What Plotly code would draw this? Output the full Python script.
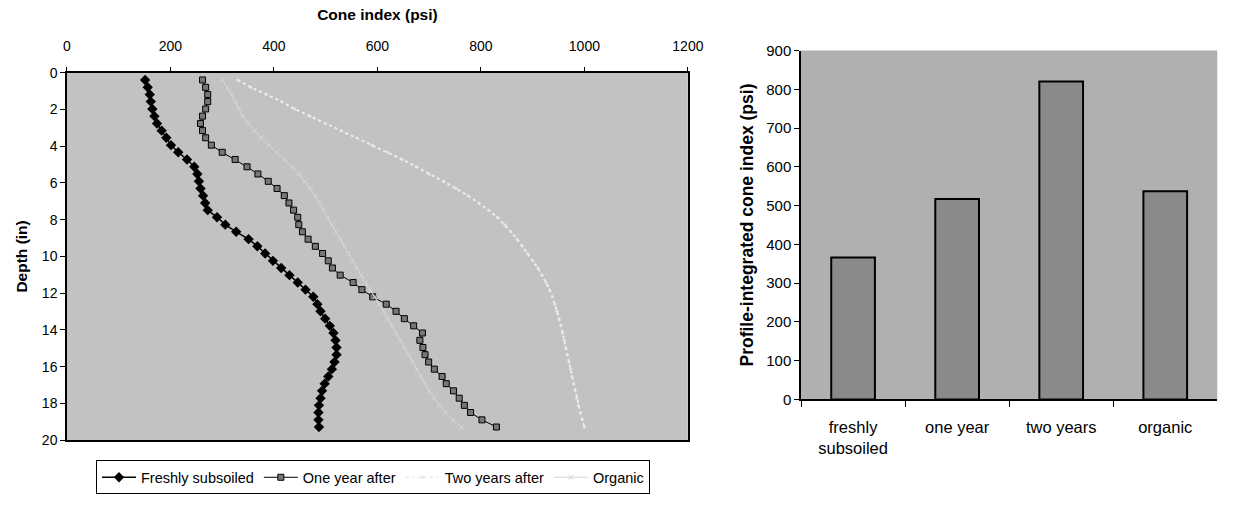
import plotly.graph_objects as go

# ---- Data ----
depth_in = [0.39, 0.79, 1.18, 1.57, 1.97, 2.36, 2.76, 3.15, 3.54, 3.94,
            4.33, 4.72, 5.12, 5.51, 5.91, 6.30, 6.69, 7.09, 7.48, 7.87,
            8.27, 8.66, 9.06, 9.45, 9.84, 10.24, 10.63, 11.02, 11.42, 11.81,
            12.20, 12.60, 12.99, 13.39, 13.78, 14.17, 14.57, 14.96, 15.35, 15.75,
            16.14, 16.54, 16.93, 17.32, 17.72, 18.11, 18.50, 18.90, 19.29]

freshly_subsoiled = [151, 156, 160, 162, 165, 169, 174, 183, 192, 201,
                     215, 232, 246, 252, 255, 258, 263, 267, 272, 290,
                     306, 327, 351, 368, 383, 398, 414, 430, 446, 461,
                     476, 484, 490, 499, 508, 515, 519, 521, 521, 517,
                     512, 505, 498, 493, 490, 487, 486, 486, 487]

one_year_after = [262, 268, 272, 272, 268, 262, 258, 262, 268, 279,
                  300, 325, 348, 369, 389, 406, 420, 429, 438, 446,
                  448, 455, 466, 480, 494, 505, 513, 528, 553, 570,
                  591, 617, 636, 652, 670, 687, 682, 688, 692, 699,
                  710, 725, 733, 747, 758, 768, 780, 802, 830]

two_years_after = [330, 355, 385, 415, 440, 470, 500, 530, 560, 590,
                   620, 648, 675, 700, 728, 752, 775, 796, 815, 832,
                   846, 858, 870, 880, 890, 900, 910, 918, 926, 933,
                   938, 943, 947, 951, 955, 958, 961, 964, 967, 970,
                   973, 976, 979, 982, 985, 988, 992, 996, 1000]

organic = [300, 310, 318, 325, 332, 340, 350, 362, 375, 390,
           405, 420, 435, 448, 460, 470, 480, 488, 496, 504,
           512, 520, 528, 536, 544, 552, 560, 568, 577, 586,
           595, 604, 612, 620, 628, 636, 644, 652, 660, 668,
           676, 684, 692, 700, 710, 720, 732, 746, 762]

bar_categories = ["freshly<br>subsoiled", "one year", "two years", "organic"]
bar_values = [366, 517, 820, 537]

x_ticks_left = [0, 200, 400, 600, 800, 1000, 1200]
y_ticks_left = [0, 2, 4, 6, 8, 10, 12, 14, 16, 18, 20]
y_ticks_right = [0, 100, 200, 300, 400, 500, 600, 700, 800, 900]

FONT = "Liberation Sans, Arial, sans-serif"
W, H = 1251, 507

fig = go.Figure()

fig.add_trace(go.Scatter(
    x=freshly_subsoiled, y=depth_in, name="Freshly subsoiled",
    mode="lines+markers", xaxis="x", yaxis="y",
    line=dict(color="black", width=1.5),
    marker=dict(symbol="diamond", size=8, color="black")))
fig.add_trace(go.Scatter(
    x=one_year_after, y=depth_in, name="One year after",
    mode="lines+markers", xaxis="x", yaxis="y",
    line=dict(color="black", width=1),
    marker=dict(symbol="square", size=6, color="#777777",
                line=dict(color="black", width=1))))
fig.add_trace(go.Scatter(
    x=two_years_after, y=depth_in, name="Two years after",
    mode="lines+markers", xaxis="x", yaxis="y",
    line=dict(color="#eeeeee", width=2, dash="dot"),
    marker=dict(symbol="circle", size=3, color="#e6e6e6")))
fig.add_trace(go.Scatter(
    x=organic, y=depth_in, name="Organic",
    mode="lines+markers", xaxis="x", yaxis="y",
    line=dict(color="#d6d6d6", width=1),
    marker=dict(symbol="x-thin", size=5, color="#d6d6d6",
                line=dict(color="#d6d6d6", width=1))))

fig.add_trace(go.Bar(
    x=bar_categories, y=bar_values, xaxis="x2", yaxis="y2",
    showlegend=False,
    marker=dict(color="#8a8a8a", line=dict(color="black", width=2))))

# plot-area backgrounds (scanned grey)
fig.add_shape(type="rect", xref="x domain", yref="y domain", x0=0, x1=1, y0=0, y1=1,
              fillcolor="#c2c2c2", line=dict(width=0), layer="below")
fig.add_shape(type="rect", xref="x2 domain", yref="y2 domain", x0=0, x1=1, y0=0, y1=1,
              fillcolor="#b0b0b0", line=dict(width=0), layer="below")

fig.update_layout(
    width=W, height=H,
    margin=dict(l=0, r=0, t=0, b=0),
    paper_bgcolor="white",
    plot_bgcolor="rgba(0,0,0,0)",
    font=dict(family=FONT, size=13, color="black"),
    bargap=0.58,
    xaxis=dict(
        domain=[64 / W, 695 / W], anchor="y", side="top",
        range=[0, 1200], tickvals=x_ticks_left,
        tickfont=dict(family=FONT, size=14, color="black"),
        ticks="outside", ticklen=4, tickcolor="black", ticklabelstandoff=10,
        showline=True, linecolor="black", linewidth=1.5, mirror=True,
        showgrid=False, zeroline=False,
        title=dict(text="<b>Cone index (psi)</b>", font=dict(family=FONT, size=15.5),
                   standoff=14)),
    yaxis=dict(
        domain=[1 - 446 / H, 1 - 66 / H], anchor="x",
        range=[20, 0], tickvals=y_ticks_left,
        tickfont=dict(family=FONT, size=14, color="black"),
        ticks="outside", ticklen=5, tickcolor="black",
        showline=True, linecolor="black", linewidth=1.5, mirror=True,
        showgrid=False, zeroline=False,
        title=dict(text="<b>Depth (in)</b>", font=dict(family=FONT, size=15.5),
                   standoff=10)),
    xaxis2=dict(
        domain=[810 / W, 1233 / W], anchor="y2",
        tickfont=dict(family=FONT, size=16.5, color="black"),
        ticks="outside", ticklen=6, tickcolor="black", tickson="boundaries",
        ticklabelstandoff=12,
        showline=True, linecolor="black", linewidth=1.5,
        showgrid=False, zeroline=False),
    yaxis2=dict(
        domain=[1 - 404 / H, 1 - 43 / H], anchor="x2",
        range=[0, 900], tickvals=y_ticks_right,
        tickfont=dict(family=FONT, size=15, color="black"),
        ticks="outside", ticklen=5, tickcolor="black",
        showline=True, linecolor="black", linewidth=1.5,
        showgrid=False, zeroline=False,
        title=dict(text="<b>Profile-integrated cone index (psi)</b>",
                   font=dict(family=FONT, size=17.5), standoff=8)),
    legend=dict(
        orientation="h", x=375 / W, xanchor="center", y=1 - 467 / H, yanchor="top",
        bgcolor="white", bordercolor="black", borderwidth=1,
        font=dict(family=FONT, size=14.5, color="black"),
        itemwidth=34, tracegroupgap=0),
)

fig.write_html("out.html",
               config={"displayModeBar": False},
               post_script="document.body.style.margin='0';document.body.style.overflow='hidden';")
